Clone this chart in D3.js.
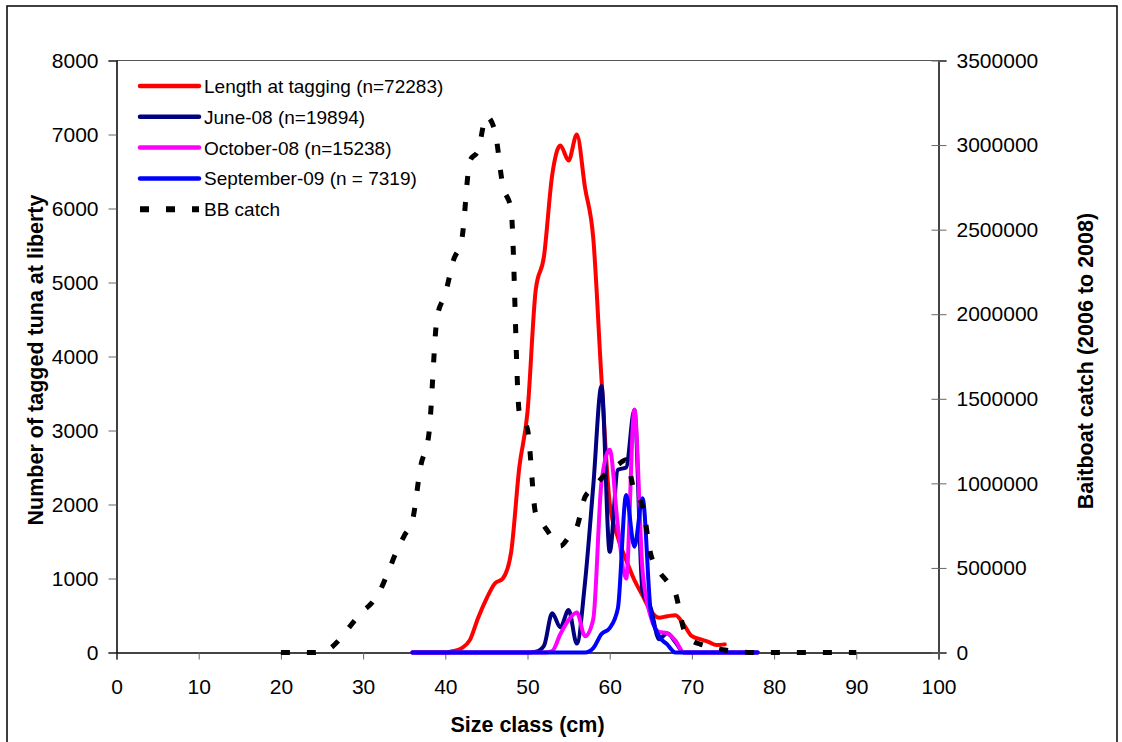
<!DOCTYPE html>
<html>
<head>
<meta charset="utf-8">
<script src="https://cdn.jsdelivr.net/npm/d3@7"></script>
<style>
  body { margin: 0; background: white; }
  text { font-family: "Liberation Sans", Arial, sans-serif; }
</style>
</head>
<body>
<div id="canvas"></div>
<script>
"use strict"

/* Data */
let tagSizes = [36, 37, 38, 39, 40, 41, 42, 43, 44, 45, 46, 47, 48, 49, 50, 51, 52, 53, 54, 55, 56, 57,
    58, 59, 60, 61, 62, 63, 64, 65, 66, 67, 68, 69, 70, 71, 72, 73, 74, 75, 76, 77, 78];

// Length at tagging (n=72283) - ends at 74 cm
let lengthAtTagging = [0, 0, 0, 0, 0, 20, 60, 170, 470, 725, 930, 1000, 1350, 2500, 3250, 4900, 5350, 6450,
    6850, 6650, 7000, 6280, 5600, 3700, 2020, 1550, 1250, 980, 770, 560, 470, 490, 505, 380, 220, 180, 145,
    100, 110, null, null, null, null];

let june08 = [0, 0, 0, 0, 0, 0, 0, 0, 0, 0, 0, 0, 0, 0, 0, 10, 90, 530, 340, 575, 120, 950, 2250, 3600, 1360,
    2470, 2500, 3280, 820, 600, 180, 260, 140, 0, 0, 0, 0, 0, 0, 0, 0, 0, 0];

let october08 = [0, 0, 0, 0, 0, 0, 0, 0, 0, 0, 0, 0, 0, 0, 0, 0, 0, 20, 250, 440, 540, 220, 450, 2300, 2740,
    1700, 1000, 3280, 1100, 480, 280, 260, 160, 0, 0, 0, 0, 0, 0, 0, 0, 0, 0];

let september09 = [0, 0, 0, 0, 0, 0, 0, 0, 0, 0, 0, 0, 0, 0, 0, 0, 0, 0, 0, 0, 0, 0, 60, 250, 330, 600, 2130,
    1430, 2085, 550, 220, 110, 0, 0, 0, 0, 0, 0, 0, 0, 0, 0, 0];

let bbSizes = [20, 21, 22, 23, 24, 25, 26, 27, 28, 29, 30, 31, 32, 33, 34, 35, 36, 37, 38, 39, 40, 41, 42, 43,
    44, 45, 46, 47, 48, 49, 50, 51, 52, 53, 54, 55, 56, 57, 58, 59, 60, 61, 62, 63, 64, 65, 66, 67, 68, 69,
    70, 71, 72, 73, 74, 75, 76, 77, 78, 79, 80, 81, 82, 83, 84, 85, 86, 87, 88, 89, 90];

let bbCatch = [0, 0, 0, 0, 0, 5000, 25000, 70000, 130000, 190000, 245000, 290000, 360000, 470000, 590000,
    690000, 780000, 1100000, 1290000, 1980000, 2120000, 2320000, 2441000, 2906000, 2970000, 3170000,
    3090000, 2760000, 2620000, 1420000, 1320000, 820000, 750000, 680000, 630000, 680000, 740000, 920000,
    970000, 1030000, 1080000, 1110000, 1140000, 950000, 863000, 580000, 480000, 420000, 350000, 140000,
    70000, 50000, 35000, 25000, 15000, 8000, 5000, 0, 0, 0, 0, 0, 0, 0, 0, 0, 0, 0, 0, 0, 0];

let xTicks = [0, 10, 20, 30, 40, 50, 60, 70, 80, 90, 100];
let leftTicks = [0, 1000, 2000, 3000, 4000, 5000, 6000, 7000, 8000];
let rightTicks = [0, 500000, 1000000, 1500000, 2000000, 2500000, 3000000, 3500000];

let seriesNames = ["Length at tagging (n=72283)", "June-08 (n=19894)", "October-08 (n=15238)",
    "September-09 (n = 7319)", "BB catch"];
let seriesColors = ["#ff0000", "#000080", "#ff00ff", "#0000ff", "#000000"];

/* Configuration variables: drawing */
let svgWidth = 1122;
let svgHeight = 742;

let plotLeft = 116.5;
let plotRight = 938.5;
let plotTop = 60.5;
let plotBottom = 652.5;

let svg = d3.select("#canvas")
    .append("svg")
    .attr("width", svgWidth)
    .attr("height", svgHeight);

// outer chart frame
svg.append("rect")
    .attr("x", 7)
    .attr("y", 6)
    .attr("width", 1110)
    .attr("height", 745)
    .attr("fill", "none")
    .attr("stroke", "black")
    .attr("stroke-width", 1.5);

let xScale = d3.scaleLinear()
    .domain([0, 100])
    .range([plotLeft, plotRight]);

let yScale = d3.scaleLinear()
    .domain([0, 8000])
    .range([plotBottom, plotTop]);

let yRight = d3.scaleLinear()
    .domain([0, 3500000])
    .range([plotBottom, plotTop]);

// top border of plot area
svg.append("line")
    .attr("x1", plotLeft)
    .attr("x2", plotRight)
    .attr("y1", plotTop)
    .attr("y2", plotTop)
    .attr("stroke", "#555")
    .attr("stroke-width", 1);

/* Axes */
let xAxis = svg.append("g")
    .attr("transform", "translate(0," + plotBottom + ")")
    .call(d3.axisBottom(xScale).tickValues(xTicks).tickSize(7).tickPadding(20));

let leftAxis = svg.append("g")
    .attr("transform", "translate(" + plotLeft + ",0)")
    .call(d3.axisLeft(yScale).tickValues(leftTicks).tickFormat(d3.format("d")).tickSize(8).tickPadding(10));

let rightAxis = svg.append("g")
    .attr("transform", "translate(" + plotRight + ",0)")
    .call(d3.axisRight(yRight).tickValues(rightTicks).tickFormat(d3.format("d")).tickSize(8).tickPadding(10));

// right axis ticks cross the axis line
rightAxis.selectAll(".tick line").attr("x1", -7);

svg.selectAll(".tick text")
    .attr("font-size", "21px")
    .attr("font-family", "'Liberation Sans', Arial, sans-serif")
    .attr("fill", "black");
svg.selectAll(".tick line").attr("stroke", "#666");

xAxis.select(".domain").attr("stroke", "#444").attr("stroke-width", 2);
leftAxis.select(".domain").attr("stroke", "#000").attr("stroke-width", 1.5);
rightAxis.select(".domain").attr("stroke", "#444").attr("stroke-width", 2);

/* Series lines */
let leftLine = d3.line()
    .defined(function(d) { return d.v !== null; })
    .x(function(d) { return xScale(d.x); })
    .y(function(d) { return yScale(d.v); })
    .curve(d3.curveMonotoneX);

let tagSeries = [lengthAtTagging, june08, october08, september09];

for (let i = 0; i < tagSeries.length; i++) {
    let pts = tagSizes.map(function(s, j) { return {x: s, v: tagSeries[i][j]}; });
    svg.append("path")
        .datum(pts)
        .attr("fill", "none")
        .attr("stroke", seriesColors[i])
        .attr("stroke-width", 4)
        .attr("stroke-linejoin", "round")
        .attr("stroke-linecap", "round")
        .attr("d", leftLine);
}

let bbLine = d3.line()
    .x(function(d) { return xScale(d.x); })
    .y(function(d) { return yRight(d.v); })
    .curve(d3.curveMonotoneX);

let bbPoints = bbSizes.map(function(s, j) { return {x: s, v: bbCatch[j]}; });

svg.append("path")
    .datum(bbPoints)
    .attr("fill", "none")
    .attr("stroke", "black")
    .attr("stroke-width", 5)
    .attr("stroke-dasharray", "9,17")
    .attr("d", bbLine);

/* Legend */
let legendX = 140;
let legendY = 86;
let legendStep = 30.8;

for (let i = 0; i < seriesNames.length; i++) {
    let yPosition = legendY + i * legendStep;
    let item = svg.append("line")
        .attr("x1", legendX)
        .attr("x2", legendX + 59)
        .attr("y1", yPosition)
        .attr("y2", yPosition)
        .attr("stroke", seriesColors[i]);
    if (i < 4) {
        item.attr("stroke-width", 4.5).attr("stroke-linecap", "round");
    } else {
        item.attr("stroke-width", 6).attr("stroke-dasharray", "9,17");
    }

    svg.append("text")
        .attr("x", 204)
        .attr("y", yPosition + 7)
        .attr("font-size", "19px")
        .text(seriesNames[i]);
}

/**** label the axes ****/
svg.append("text")
    .attr("x", (plotLeft + plotRight) / 2)
    .attr("y", 732)
    .attr("text-anchor", "middle")
    .attr("font-size", "21.5px")
    .attr("font-weight", "bold")
    .text("Size class (cm)");

svg.append("text")
    .attr("transform", "translate(43,360) rotate(-90)")
    .attr("text-anchor", "middle")
    .attr("font-size", "21.5px")
    .attr("font-weight", "bold")
    .text("Number of tagged tuna at liberty");

svg.append("text")
    .attr("transform", "translate(1093,361) rotate(-90)")
    .attr("text-anchor", "middle")
    .attr("font-size", "21.5px")
    .attr("font-weight", "bold")
    .text("Baitboat catch (2006 to 2008)");
</script>
</body>
</html>
